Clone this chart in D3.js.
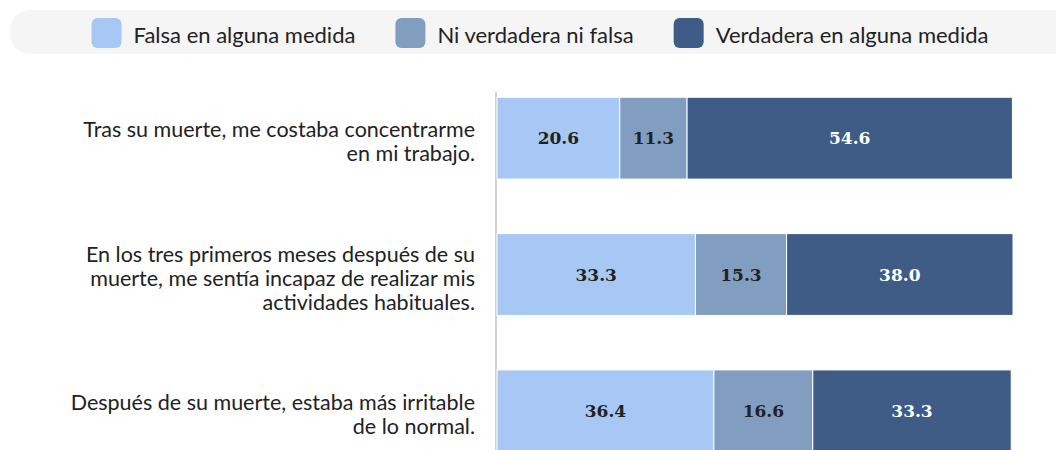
<!DOCTYPE html>
<html>
<head>
<meta charset="utf-8">
<script src="https://cdn.jsdelivr.net/npm/d3@7"></script>
<style>
  html, body { margin: 0; padding: 0; background: #fff; overflow: hidden; }
</style>
</head>
<body>
<div id="chart"></div>
<script>
// Data
const categories = [
    "Tras su muerte, me costaba concentrarme\nen mi trabajo.",
    "En los tres primeros meses después de su\nmuerte, me sentía incapaz de realizar mis\nactividades habituales.",
    "Después de su muerte, estaba más irritable\nde lo normal."
];
const seriesNames = ["Falsa en alguna medida", "Ni verdadera ni falsa", "Verdadera en alguna medida"];
const falsa = [20.6, 33.3, 36.4];
const neutral = [11.3, 15.3, 16.6];
const verdadera = [54.6, 38.0, 33.3];

const colors = ["#a7c8f4", "#819dc0", "#3e5c86"];
const labelColors = ["#222", "#222", "#fff"];

const width = 1056, height = 450;

const svg = d3.select("#chart").append("svg")
    .attr("width", width)
    .attr("height", height)
    .style("display", "block");

// Build rows
const rows = categories.map((c, i) => ({ category: c, values: [falsa[i], neutral[i], verdadera[i]] }));
const stackData = rows.map(r => {
    const o = { category: r.category };
    seriesNames.forEach((s, j) => o[s] = r.values[j]);
    return o;
});
const series = d3.stack().keys(seriesNames)(stackData);

// Scales
const xScale = d3.scaleLinear()
    .domain([0, d3.max(rows, r => d3.sum(r.values))])
    .range([497, 1013]);

const yScale = d3.scaleBand()
    .domain(categories)
    .range([70, 479])
    .paddingInner(0.4)
    .paddingOuter(0.2);

// Legend background
svg.append("rect")
    .attr("x", 10)
    .attr("y", 10)
    .attr("width", 1080)
    .attr("height", 44)
    .attr("rx", 20)
    .attr("fill", "#f5f5f5");

// Legend items, measured then centered
const legendGroup = svg.append("g");
const items = legendGroup.selectAll("g")
    .data(seriesNames)
    .join("g");

items.append("rect")
    .attr("width", 30)
    .attr("height", 30)
    .attr("y", 18)
    .attr("rx", 6)
    .attr("fill", (d, i) => colors[i]);

items.append("text")
    .attr("x", 42)
    .attr("y", 34)
    .attr("dominant-baseline", "central")
    .attr("font-family", "Lato, sans-serif")
    .attr("font-size", "22px")
    .attr("fill", "#222")
    .text(d => d);

let offset = 0;
const positions = [];
items.each(function () {
    const w = d3.select(this).select("text").node().getComputedTextLength() + 42;
    positions.push(offset);
    offset += w + 40;
});
const legendWidth = offset - 40;
const legendStart = 540 - legendWidth / 2;
items.attr("transform", (d, i) => `translate(${legendStart + positions[i]},0)`);

// Axis line
svg.append("line")
    .attr("x1", xScale(0) - 1)
    .attr("x2", xScale(0) - 1)
    .attr("y1", 92)
    .attr("y2", yScale.range()[1])
    .attr("stroke", "#d0d0d0")
    .attr("stroke-width", 2);

// Bars
const layers = svg.append("g")
    .selectAll("g")
    .data(series)
    .join("g")
    .attr("fill", (d, i) => colors[i]);

layers.selectAll("rect")
    .data(d => d)
    .join("rect")
    .attr("x", d => xScale(d[0]))
    .attr("y", d => yScale(d.data.category))
    .attr("width", d => xScale(d[1]) - xScale(d[0]))
    .attr("height", yScale.bandwidth())
    .attr("stroke", "#fff")
    .attr("stroke-width", 1);

// Value labels
layers.each(function (s, i) {
    d3.select(this).selectAll("text")
        .data(s)
        .join("text")
        .attr("x", d => (xScale(d[0]) + xScale(d[1])) / 2)
        .attr("y", d => yScale(d.data.category) + yScale.bandwidth() / 2)
        .attr("text-anchor", "middle")
        .attr("dominant-baseline", "central")
        .attr("font-family", "'DejaVu Serif', serif")
        .attr("font-weight", "bold")
        .attr("font-size", "17px")
        .attr("fill", labelColors[i])
        .attr("stroke", "none")
        .text(d => (d[1] - d[0]).toFixed(1));
});

// Category labels
const lineHeight = 24;
svg.append("g")
    .selectAll("text")
    .data(categories)
    .join("text")
    .attr("text-anchor", "end")
    .attr("font-family", "Lato, sans-serif")
    .attr("font-size", "21.5px")
    .attr("fill", "#222")
    .each(function (d) {
        const lines = d.split("\n");
        const cy = yScale(d) + yScale.bandwidth() / 2 + 3;
        const top = cy - (lines.length - 1) * lineHeight / 2;
        d3.select(this).selectAll("tspan")
            .data(lines)
            .join("tspan")
            .attr("x", 475)
            .attr("y", (l, k) => top + k * lineHeight)
            .attr("dominant-baseline", "central")
            .text(l => l);
    });
</script>
</body>
</html>
